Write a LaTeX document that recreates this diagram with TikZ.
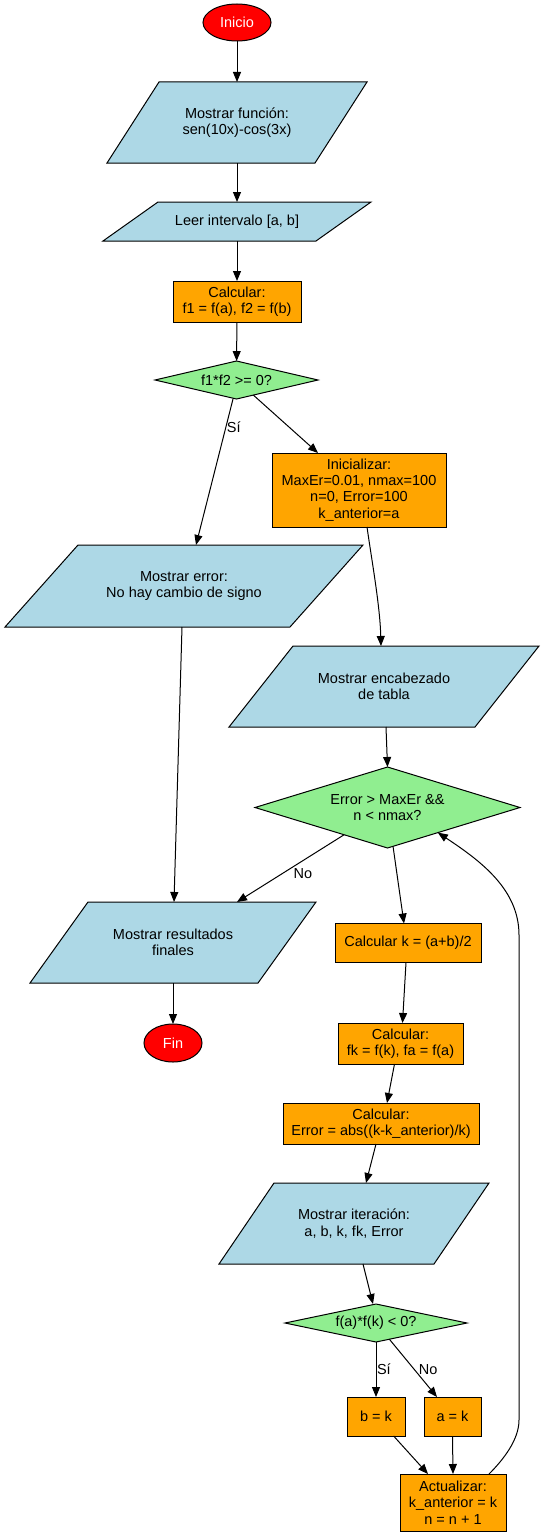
\documentclass[tikz,border=0pt]{standalone}
\usepackage{fontspec}
\setmainfont{Liberation Sans}
\usetikzlibrary{shapes.geometric,arrows.meta,backgrounds,calc}
\definecolor{ioblue}{RGB}{173,216,230}
\definecolor{procorange}{RGB}{255,165,0}
\definecolor{decgreen}{RGB}{144,238,144}
\definecolor{termred}{RGB}{255,0,0}
\tikzset{
  every node/.style={font=\fontsize{14.5}{16.3}\selectfont, inner sep=0pt, outer sep=0pt},
  terminal/.style={ellipse, draw=black, fill=termred, text=white, line width=1pt},
  procbox/.style={rectangle, draw=black, fill=procorange, align=center, line width=1pt},
  decision/.style={diamond, aspect=4, draw=black, fill=decgreen, align=center, line width=1pt},
  iobox/.style={rectangle, align=center},
  iofill/.style={draw=black, fill=ioblue, line width=1pt, line join=miter},
  flow/.style={-{Triangle[length=10pt,width=8pt]}, line width=1pt, draw=black},
  elabel/.style={inner sep=0pt},
}
\newcommand\iopara[2]{\path[iofill] ([xshift=#2pt]#1.north west) -- (#1.north east) -- ([xshift=-#2pt]#1.south east) -- (#1.south west) -- cycle;}
\begin{document}
\begin{tikzpicture}[x=1pt,y=-1pt]
\useasboundingbox (0,0) rectangle (544,1536);
% nodes
\node[terminal, minimum width=68pt, minimum height=37pt] (ini) at (237,22.5) {Inicio};
\node[iobox, minimum width=260pt, minimum height=81pt] (fun) at (237,122.5) {Mostrar función:\\sen(10x)-cos(3x)};
\node[iobox, minimum width=268pt, minimum height=39pt] (leer) at (237,221.5) {Leer intervalo [a, b]};
\node[procbox, minimum width=128pt, minimum height=41pt] (calc1) at (237,301.5) {Calcular:\\f1 = f(a), f2 = f(b)};
\node[decision, minimum width=163pt, minimum height=38pt] (d1) at (236.5,380) {f1*f2 >= 0?};
\node[procbox, minimum width=174pt, minimum height=74pt] (init) at (359,490) {Inicializar:\\MaxEr=0.01, nmax=100\\n=0, Error=100\\k\_anterior=a};
\node[iobox, minimum width=358pt, minimum height=82pt] (err) at (184,586) {Mostrar error:\\No hay cambio de signo};
\node[iobox, minimum width=310pt, minimum height=81pt] (enc) at (384,686.5) {Mostrar encabezado\\de tabla};
\node[decision, minimum width=265pt, minimum height=81pt] (d2) at (387.5,807.5) {Error > MaxEr \&\&\\n < nmax?};
\node[iobox, minimum width=286pt, minimum height=81pt] (res) at (173,942.5) {Mostrar resultados\\finales};
\node[terminal, minimum width=58pt, minimum height=38pt] (fin) at (173,1043) {Fin};
\node[procbox, minimum width=146pt, minimum height=39pt] (calck) at (408,943) {Calcular k = (a+b)/2};
\node[procbox, minimum width=125pt, minimum height=41pt] (calcfk) at (400.5,1043.5) {Calcular:\\fk = f(k), fa = f(a)};
\node[procbox, minimum width=196pt, minimum height=41pt] (calcerr) at (381,1123.5) {Calcular:\\Error = abs((k-k\_anterior)/k)};
\node[iobox, minimum width=270pt, minimum height=81pt] (iter) at (354,1223.5) {Mostrar iteración:\\a, b, k, fk, Error};
\node[decision, minimum width=182pt, minimum height=38pt] (d3) at (376,1323) {f(a)*f(k) < 0?};
\node[procbox, minimum width=58pt, minimum height=39pt] (bk) at (376,1416.5) {b = k};
\node[procbox, minimum width=57pt, minimum height=39pt] (ak) at (452.5,1416.5) {a = k};
\node[procbox, minimum width=106pt, minimum height=57pt] (act) at (453,1502.5) {Actualizar:\\k\_anterior = k\\n = n + 1};
% helper coordinates for the loop
\coordinate (loopin) at ($(d2.south)!0.38!(d2.east)$);
\coordinate (loopA) at (519,1420);
\coordinate (loopB) at (519,935);
% edges
\draw[flow] (ini) -- (fun);
\draw[flow] (fun) -- (leer);
\draw[flow] (leer) -- (calc1);
\draw[flow] (calc1) -- (d1);
\draw[flow] ([xshift=-3.5pt]d1.south) -- node[elabel, pos=0.192, anchor=west, xshift=1pt]{Sí} ([xshift=12pt]err.north);
\draw[flow] (d1) -- ([xshift=-41pt]init.north);
\draw[flow] ([xshift=8pt]init.south) .. controls +(5,35) and +(-1,-40) .. ([xshift=-3pt]enc.north);
\draw[flow] ([xshift=-2pt]err.south) -- ([xshift=1pt]res.north);
\draw[flow] ([xshift=2pt]enc.south) -- (d2.north);
\draw[flow] (d2) -- node[elabel, pos=0.384, anchor=north, yshift=-7.5pt]{No} ([xshift=64pt]res.north);
\draw[flow] (d2) -- ([xshift=-4pt]calck.north);
\draw[flow] (res) -- (fin);
\draw[flow] ([xshift=-2pt]calck.south) -- ([xshift=2pt]calcfk.north);
\draw[flow] ([xshift=-6pt]calcfk.south) -- ([xshift=6pt]calcerr.north);
\draw[flow] ([xshift=-5pt]calcerr.south) -- ([xshift=12pt]iter.north);
\draw[flow] ([xshift=9pt]iter.south) -- ([xshift=-3pt]d3.north);
\draw[flow] (d3.south) -- node[elabel, pos=0.49, anchor=west, xshift=1pt]{Sí} (bk.north);
\draw[flow] (d3) -- node[elabel, pos=0.524, anchor=west, xshift=4.5pt]{No} ([xshift=-15.5pt]ak.north);
\draw[flow] (bk) -- ([xshift=-25pt]act.north);
\draw[flow] (ak.south) -- (act.north);
\draw[flow] ([xshift=36pt]act.north) .. controls +(14,-14) and +(0,20) .. (loopA) -- (loopB) .. controls +(0,-45) and +(44,29) .. (loopin);
% parallelograms behind the text
\begin{pgfonlayer}{background}
\fill[white] (0,0) rectangle (544,1536);
\iopara{fun}{52}
\iopara{leer}{55}
\iopara{err}{73}
\iopara{enc}{64}
\iopara{res}{58}
\iopara{iter}{55}
\end{pgfonlayer}
\end{tikzpicture}
\end{document}
